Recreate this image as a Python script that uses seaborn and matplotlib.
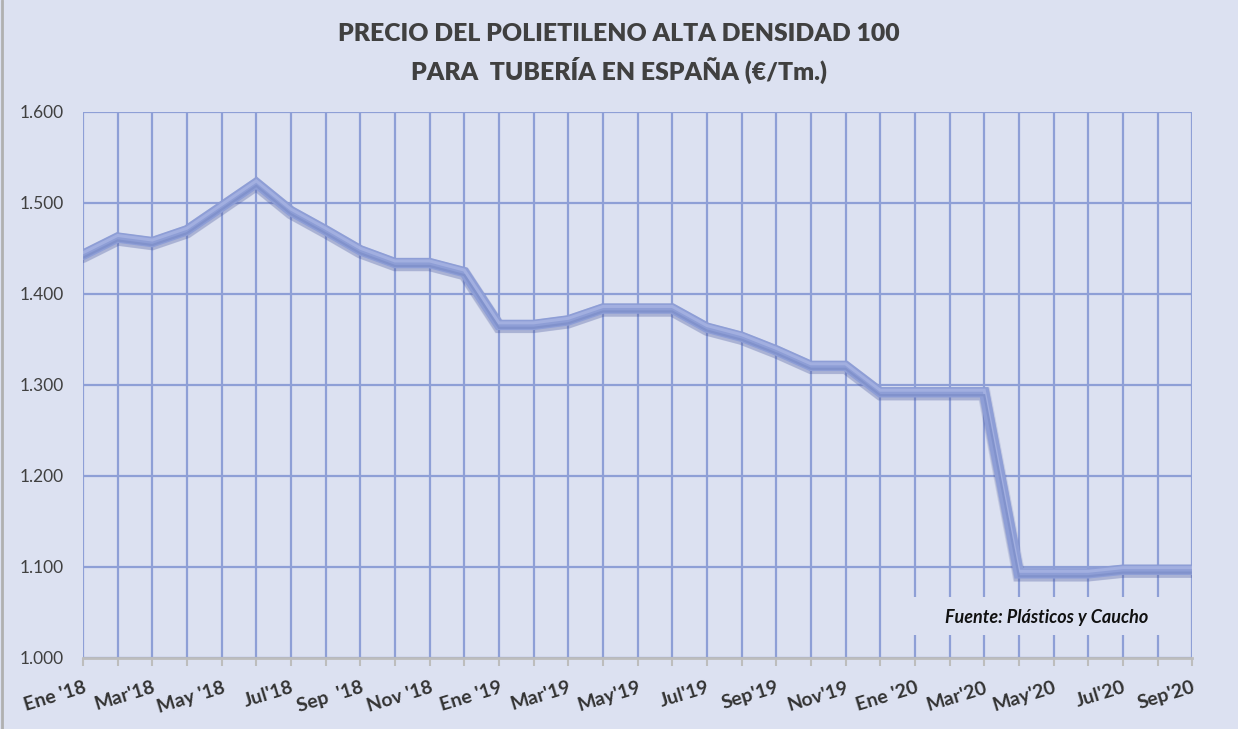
import numpy as np
import pandas as pd
import matplotlib
matplotlib.use("Agg")
import matplotlib.pyplot as plt
import matplotlib.patheffects as pe
from matplotlib.patches import Rectangle
from matplotlib.ticker import FuncFormatter
import seaborn as sns

# -------------------------------
# Data
# -------------------------------
months = ["Ene '18", "Feb '18", "Mar'18", "Abr '18", "May '18", "Jun '18",
          "Jul'18", "Ago '18", "Sep  '18", "Oct '18", "Nov '18", "Dic '18",
          "Ene '19", "Feb '19", "Mar'19", "Abr '19", "May'19", "Jun '19",
          "Jul'19", "Ago '19", "Sep'19", "Oct '19", "Nov'19", "Dic '19",
          "Ene '20", "Feb '20", "Mar'20", "Abr '20", "May'20", "Jun '20",
          "Jul'20", "Ago '20", "Sep'20"]

precio = [1443, 1462, 1457, 1470, 1496, 1522,
          1491, 1470, 1448, 1434, 1434, 1424,
          1366, 1366, 1371, 1384, 1384, 1384,
          1363, 1353, 1338, 1321, 1321, 1292,
          1292, 1292, 1292, 1093, 1093, 1093,
          1097, 1097, 1097]

yticks = [1000, 1100, 1200, 1300, 1400, 1500, 1600]

df = pd.DataFrame({"mes": np.arange(len(months)), "precio": precio})

# -------------------------------
# Style
# -------------------------------
bg = "#dce1f1"
grid_col = "#8e9fd6"
sns.set_theme(style="white")
plt.rcParams["font.family"] = ["Lato", "DejaVu Sans"]

fig = plt.figure(figsize=(12.38, 7.29), dpi=100, facecolor=bg)
ax = fig.add_axes([0.067, 0.0974, 0.896, 0.749])
ax.set_facecolor(bg)

sns.lineplot(data=df, x="mes", y="precio", ax=ax, color="#8c9cd4",
             linewidth=7.5, zorder=5)
line = ax.lines[-1]
line.set_solid_joinstyle("miter")
# soft shadow under the band + light top edge (3D look of the original)
line.set_path_effects([
    pe.SimpleLineShadow(offset=(0, -1.2), shadow_color="#46559a", alpha=0.16, linewidth=9.5),
    pe.SimpleLineShadow(offset=(0, -1.8), shadow_color="#46559a", alpha=0.2, linewidth=8),
    pe.Stroke(linewidth=7.5, foreground="#8e9ed6"),
    pe.Stroke(offset=(0, 1.5), linewidth=2.2, foreground="#a2afe0"),
    pe.Stroke(offset=(0, -2.1), linewidth=1.6, foreground="#8192cc"),
])

# -------------------------------
# Axes / grid
# -------------------------------
ax.set_xlim(0, len(months) - 1)
ax.set_ylim(1000, 1600)
ax.set_yticks(yticks)
ax.yaxis.set_major_formatter(FuncFormatter(lambda v, p: f"{v/1000:.3f}"))
ax.set_xticks(df["mes"])
ax.set_xticklabels([m if i % 2 == 0 else "" for i, m in enumerate(months)])

ax.grid(True, color=grid_col, linewidth=1.6, zorder=1)
ax.set_axisbelow(True)
for s in ["top", "right", "left"]:
    ax.spines[s].set_visible(False)
ax.spines["bottom"].set_color("#bdbdbd")
ax.spines["bottom"].set_linewidth(2)
ax.spines["bottom"].set_zorder(3)

ax.tick_params(axis="x", which="major", direction="out", length=6, width=1.5,
               color="#bdbdbd", pad=9, bottom=True)
ax.tick_params(axis="y", length=0, pad=14)
for lab in ax.get_yticklabels():
    lab.set_fontsize(12.5)
    lab.set_color("#404040")
for lab in ax.get_xticklabels():
    lab.set_fontsize(14)
    lab.set_fontweight("bold")
    lab.set_color("#333333")
    lab.set_rotation(17)
    lab.set_ha("right")
    lab.set_rotation_mode("anchor")

ax.set_xlabel("")
ax.set_ylabel("")

# -------------------------------
# Title and source note
# -------------------------------
fig.text(0.5, 0.954, "PRECIO DEL POLIETILENO ALTA DENSIDAD 100",
         ha="center", va="center", fontsize=17.8, fontweight="heavy", color="#404040")
fig.text(0.5, 0.903, "PARA  TUBERÍA EN ESPAÑA (€/Tm.)",
         ha="center", va="center", fontsize=17.8, fontweight="heavy", color="#404040")

# note box hides the grid behind it
ax.add_patch(Rectangle((0.741, 0.042), 0.25, 0.07, transform=ax.transAxes,
                       facecolor=bg, edgecolor="none", zorder=4))
ax.text(0.960, 0.074, "Fuente: Plásticos y Caucho", transform=ax.transAxes,
        ha="right", va="center", fontsize=13, fontweight="bold", style="italic",
        color="#111111", zorder=6)

# thin frame line at the left edge of the picture
fig.add_artist(plt.Line2D([0.002, 0.002], [0, 1], color="#b0b0b0", linewidth=2,
                          transform=fig.transFigure))

fig.savefig("out.png", dpi=100, facecolor=bg)
